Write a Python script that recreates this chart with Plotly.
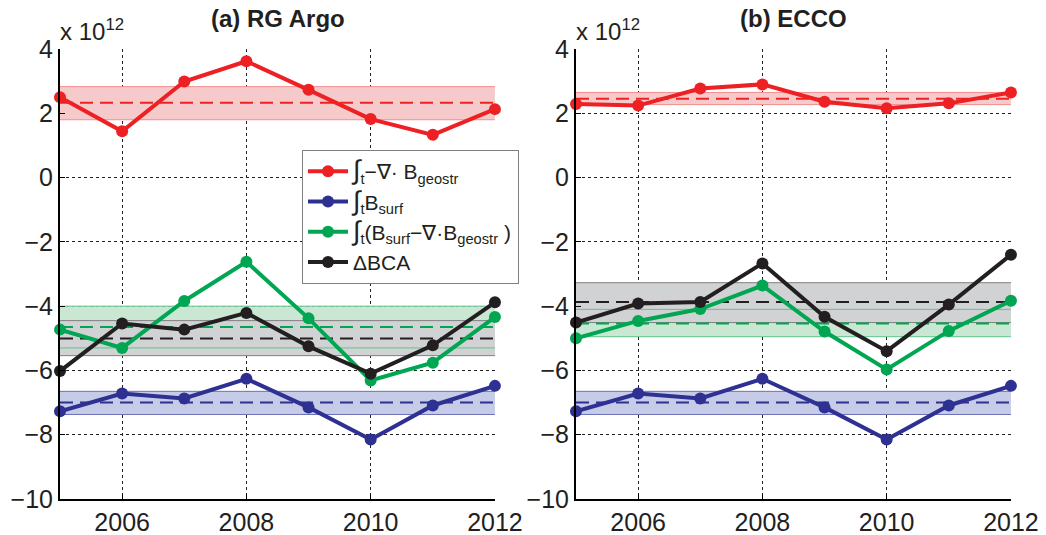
import plotly.graph_objects as go

years = [2005, 2006, 2007, 2008, 2009, 2010, 2011, 2012]

# (a) RG Argo
a_red = [2.50, 1.44, 2.99, 3.62, 2.73, 1.82, 1.33, 2.13]
a_blue = [-7.27, -6.72, -6.87, -6.26, -7.15, -8.15, -7.09, -6.48]
a_green = [-4.73, -5.30, -3.84, -2.62, -4.38, -6.31, -5.76, -4.34]
a_black = [-6.02, -4.54, -4.73, -4.21, -5.25, -6.10, -5.22, -3.88]
a_mean = [2.33, -7.00, -4.65, -5.01]          # red, blue, green, black
a_band_lo = [1.80, -7.37, -5.30, -5.54]
a_band_hi = [2.83, -6.65, -4.00, -4.45]

# (b) ECCO
b_red = [2.29, 2.24, 2.77, 2.90, 2.36, 2.16, 2.31, 2.65]
b_blue = [-7.27, -6.72, -6.87, -6.26, -7.15, -8.15, -7.09, -6.48]
b_green = [-5.00, -4.46, -4.09, -3.36, -4.79, -5.97, -4.77, -3.83]
b_black = [-4.51, -3.92, -3.87, -2.67, -4.33, -5.40, -3.95, -2.40]
b_mean = [2.45, -7.00, -4.54, -3.87]
b_band_lo = [2.27, -7.37, -4.95, -4.51]
b_band_hi = [2.65, -6.65, -4.10, -3.27]

INT = "<span style='font-size:27px'>∫</span>"
names = [INT + "<sub>t</sub>−∇· B<sub>geostr</sub>",
         INT + "<sub>t</sub>B<sub>surf</sub>",
         INT + "<sub>t</sub>(B<sub>surf</sub>−∇·B<sub>geostr</sub> )",
         "ΔBCA"]
titles = ["<b>(a) RG Argo</b>", "<b>(b) ECCO</b>"]

y_ticks = [-10, -8, -6, -4, -2, 0, 2, 4]
y_ticktext = ["−10", "−8", "−6", "−4", "−2", "0", "2", "4"]
x_ticks = [2006, 2008, 2010, 2012]
x_ticktext = ["2006", "2008", "2010", "2012"]

line_colors = ["#ED2024", "#2E3192", "#00A651", "#231F20"]
band_fill = ["#F6CACA", "#C6CBE7", "#C9E7D3", "#D1D2D4"]
band_edge = ["#F28C8C", "#6B70B6", "#5EC48C", "#7F7F7F"]

fig = go.Figure()

panels = [
    ("x", "y", [a_red, a_blue, a_green, a_black], a_mean, a_band_lo, a_band_hi, True),
    ("x2", "y2", [b_red, b_blue, b_green, b_black], b_mean, b_band_lo, b_band_hi, False),
]

x0, x1 = years[0], years[-1]
for xa, ya, series, means, lo, hi, show in panels:
    for i in range(4):
        fig.add_trace(go.Scatter(
            x=[x0, x1, x1, x0, x0], y=[lo[i], lo[i], hi[i], hi[i], lo[i]],
            fill="toself", fillcolor=band_fill[i], mode="lines",
            line=dict(width=0, color=band_fill[i]), hoverinfo="skip",
            showlegend=False, xaxis=xa, yaxis=ya))
    for i in range(4):
        fig.add_trace(go.Scatter(
            x=[x0, x1, None, x0, x1], y=[lo[i], lo[i], None, hi[i], hi[i]],
            mode="lines", line=dict(width=1, color=band_edge[i]),
            hoverinfo="skip", showlegend=False, xaxis=xa, yaxis=ya))
    for i in range(4):
        fig.add_trace(go.Scatter(
            x=[x0, x1], y=[means[i], means[i]], mode="lines",
            line=dict(width=2, color=line_colors[i], dash="13px,7px"),
            hoverinfo="skip", showlegend=False, xaxis=xa, yaxis=ya))
    for i in range(4):
        fig.add_trace(go.Scatter(
            x=years, y=series[i], mode="lines+markers", name=names[i],
            line=dict(width=4, color=line_colors[i]),
            marker=dict(size=12, color=line_colors[i]),
            cliponaxis=False, showlegend=show, xaxis=xa, yaxis=ya))

ax_common = dict(
    showline=True, linecolor="black", linewidth=2, automargin=False,
    ticks="inside", ticklen=5, tickcolor="black", tickwidth=1,
    showgrid=True, gridcolor="#222222", griddash="dot", gridwidth=1,
    zeroline=False, tickfont=dict(family="Liberation Sans, Arial", size=25, color="#231F20"),
)
ydom = [(535 - 499) / 535, (535 - 49) / 535]
fig.update_layout(
    width=1046, height=535,
    margin=dict(l=0, r=0, t=0, b=0, autoexpand=False),
    paper_bgcolor="white", plot_bgcolor="white",
    xaxis=dict(domain=[60 / 1046, 495 / 1046], range=[2005, 2012.001], tickvals=x_ticks,
               ticktext=x_ticktext, anchor="y", **ax_common),
    yaxis=dict(domain=ydom, range=[-10, 4.001], tickvals=y_ticks, ticktext=y_ticktext,
               anchor="x", **ax_common),
    xaxis2=dict(domain=[576 / 1046, 1011 / 1046], range=[2005, 2012.001], tickvals=x_ticks,
                ticktext=x_ticktext, anchor="y2", **ax_common),
    yaxis2=dict(domain=ydom, range=[-10, 4.001], tickvals=y_ticks, ticktext=y_ticktext,
                anchor="x2", **ax_common),
    legend=dict(x=302 / 1046, y=(535 - 150) / 535, xanchor="left", yanchor="top",
                bgcolor="white", bordercolor="#808080", borderwidth=1,
                font=dict(family="Liberation Sans, Arial", size=21, color="#231F20"),
                tracegroupgap=0, itemwidth=40),
    showlegend=True,
)

centers = [(60 + 495) / 2 / 1046, (576 + 1011) / 2 / 1046]
for c, t in zip(centers, titles):
    fig.add_annotation(x=c, y=1 - 19 / 535, xref="paper", yref="paper", text=t,
                       showarrow=False, xanchor="center", yanchor="middle",
                       font=dict(family="Liberation Sans, Arial", size=24, color="#231F20"))
for xl in [58, 574]:
    fig.add_annotation(x=xl / 1046, y=1 - 47 / 535, xref="paper", yref="paper",
                       text="x 10<sup>12</sup>", showarrow=False, xanchor="left", yanchor="bottom",
                       font=dict(family="Liberation Sans, Arial", size=24, color="#231F20"))

fig.write_html("out.html")
